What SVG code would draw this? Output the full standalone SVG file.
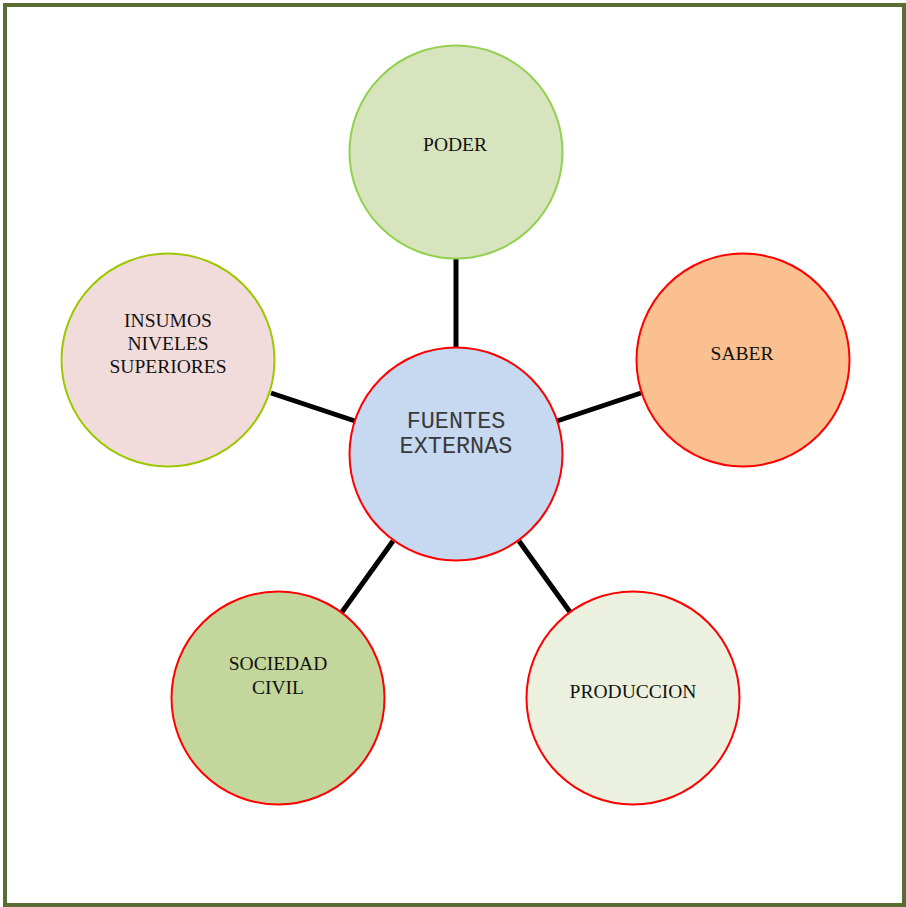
<svg xmlns="http://www.w3.org/2000/svg" width="906" height="907" viewBox="0 0 906 907">
<style>
.t{font-family:"Liberation Serif","Times New Roman",serif;font-size:19.5px;fill:#111;text-anchor:middle}
.m{font-family:"Liberation Mono","Courier New",monospace;font-size:23.5px;fill:#3a3a3a;text-anchor:middle}
.c{stroke-width:2}
.ln{stroke:#000;stroke-width:5;fill:none}
</style>
<rect x="0" y="0" width="906" height="907" fill="#fff"/>
<rect x="5" y="5" width="899" height="900" fill="#fff" stroke="#5a6e33" stroke-width="4"/>
<g id="connectors">
<line class="ln" x1="456" y1="259" x2="456" y2="347"/>
<line class="ln" x1="641" y1="393" x2="557" y2="421"/>
<line class="ln" x1="271" y1="393" x2="355" y2="421"/>
<line class="ln" x1="342" y1="612" x2="393" y2="541"/>
<line class="ln" x1="570" y1="612" x2="519" y2="541"/>
</g>
<g id="poder">
<circle class="c" cx="456" cy="152" r="106.5" fill="#d7e4bd" stroke="#92d050"/>
<text class="t" x="455" y="151">PODER</text>
</g>
<g id="saber">
<circle class="c" cx="743" cy="360" r="106.5" fill="#fac090" stroke="#ff0000"/>
<text class="t" x="742" y="360">SABER</text>
</g>
<g id="insumos">
<circle class="c" cx="168" cy="360" r="106.5" fill="#f2dcdb" stroke="#9bc800"/>
<text class="t" x="168" y="327">INSUMOS</text>
<text class="t" x="168" y="350">NIVELES</text>
<text class="t" x="168" y="373">SUPERIORES</text>
</g>
<g id="fuentes">
<circle class="c" cx="456" cy="454" r="106.5" fill="#c6d9f1" stroke="#ff0000"/>
<text class="m" x="456" y="428">FUENTES</text>
<text class="m" x="456" y="453">EXTERNAS</text>
</g>
<g id="sociedad">
<circle class="c" cx="278" cy="698" r="106.5" fill="#c3d69b" stroke="#ff0000"/>
<text class="t" x="278" y="670">SOCIEDAD</text>
<text class="t" x="278" y="694">CIVIL</text>
</g>
<g id="produccion">
<circle class="c" cx="633" cy="698" r="106.5" fill="#ebf1de" stroke="#ff0000"/>
<text class="t" x="633" y="698">PRODUCCION</text>
</g>
</svg>
